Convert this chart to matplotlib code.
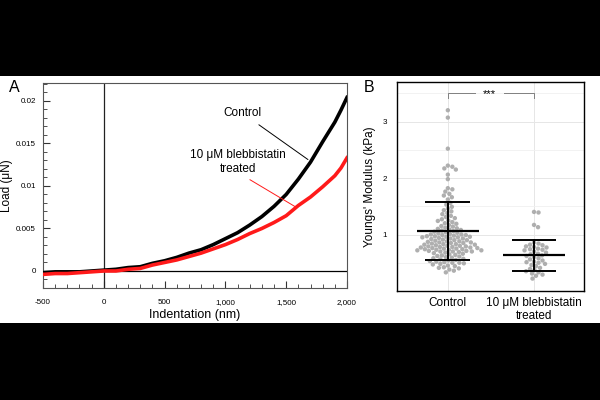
import numpy as np
import matplotlib
matplotlib.use("Agg")
import matplotlib.pyplot as plt
from matplotlib.patches import Rectangle
from matplotlib.ticker import MultipleLocator, FixedLocator, FuncFormatter

plt.rcParams['font.family'] = ['Liberation Sans', 'DejaVu Sans']

# ---------------- Data ----------------
indent_nm = [-500, -400, -300, -200, -100, 0, 100, 200, 300, 400, 500, 600, 700,
             800, 900, 1000, 1100, 1200, 1300, 1400, 1500, 1600, 1700, 1800,
             1900, 1950, 2000]
load_control = [-0.0002, -0.0001, -0.0001, -0.0001, 0.0000, 0.0001, 0.0002, 0.0004,
                 0.0005, 0.0009, 0.0012, 0.0016, 0.0021, 0.0025, 0.0031, 0.0038,
                 0.0045, 0.0054, 0.0064, 0.0076, 0.0090, 0.0108, 0.0128, 0.0152,
                 0.0175, 0.0189, 0.0204]
load_treated = [-0.0004, -0.0003, -0.0003, -0.0002, -0.0001, 0.0000, 0.0000, 0.0002,
                 0.0003, 0.0007, 0.0010, 0.0013, 0.0017, 0.0021, 0.0026, 0.0031,
                 0.0037, 0.0044, 0.0050, 0.0057, 0.0065, 0.0077, 0.0087, 0.0099,
                 0.0112, 0.0121, 0.0133]

x_ticks_A = [-500, 0, 500, 1000, 1500, 2000]
y_ticks_A = [0, 0.005, 0.01, 0.015, 0.02]
y_ticklabels_A = ["0", "0.005", "0.01", "0.015", "0.02"]

groups = ["Control", "10 \u03bcM blebbistatin\ntreated"]
modulus_control = [3.20, 3.07, 2.52,
    2.22, 2.20, 2.17, 2.15, 2.06, 1.98,
    1.82, 1.80, 1.76, 1.72, 1.69, 1.66, 1.62,
    1.56, 1.53, 1.49, 1.46, 1.43, 1.41, 1.38, 1.36,
    1.33, 1.31, 1.29, 1.27, 1.25, 1.24, 1.22, 1.20, 1.19, 1.17, 1.15, 1.14, 1.12, 1.11, 1.10,
    1.09, 1.08, 1.07, 1.06, 1.05, 1.04, 1.03, 1.02, 1.01, 1.00, 1.00, 0.99, 0.99, 0.98,
    0.97, 0.97, 0.96, 0.96, 0.95, 0.95,
    0.94, 0.93, 0.93, 0.92, 0.91, 0.90, 0.90, 0.89, 0.88, 0.88, 0.87, 0.86, 0.86, 0.85,
    0.85, 0.84, 0.83, 0.83, 0.82, 0.82, 0.81, 0.80, 0.80, 0.79, 0.79, 0.78, 0.78, 0.77,
    0.77, 0.76, 0.76, 0.75, 0.75, 0.74, 0.74, 0.73, 0.73, 0.72, 0.72, 0.71, 0.71, 0.70,
    0.70, 0.70, 0.69,
    0.68, 0.67, 0.66, 0.65, 0.64, 0.63, 0.62, 0.61, 0.60, 0.59, 0.58, 0.57, 0.56, 0.55,
    0.54, 0.53, 0.52, 0.51, 0.50, 0.50, 0.49, 0.48,
    0.47, 0.45, 0.44, 0.42, 0.41, 0.40, 0.38, 0.36, 0.33]
modulus_treated = [1.40, 1.39, 1.17, 1.13,
    0.86, 0.84, 0.82, 0.81, 0.79, 0.78, 0.77, 0.75, 0.74, 0.73, 0.72, 0.70, 0.68, 0.66,
    0.65, 0.63, 0.62, 0.60, 0.58, 0.56, 0.54, 0.52, 0.51, 0.50, 0.48, 0.46, 0.44, 0.41,
    0.39, 0.37, 0.35, 0.33, 0.31, 0.29, 0.27, 0.22]
group_means = [1.06, 0.63]
group_sds = [0.51, 0.28]
signif_label = "***"

# ---------------- Figure ----------------
W, H = 600, 400
fig = plt.figure(figsize=(6, 4), dpi=100, facecolor='black')
fig.patches.append(Rectangle((0, 1 - 323 / H), 1, (323 - 76) / H, transform=fig.transFigure,
                             facecolor='white', edgecolor='none', zorder=-10))

def px_axes(x0, y0, x1, y1):
    return fig.add_axes([x0 / W, 1 - y1 / H, (x1 - x0) / W, (y1 - y0) / H])

# ---------------- Panel A ----------------
axA = px_axes(43, 83, 347, 288)
axA.set_xlim(-500, 2000)
axA.set_ylim(-0.0020, 0.0221)
axA.plot(indent_nm, load_control, color='black', lw=2.6, solid_joinstyle='round', zorder=3)
axA.plot(indent_nm, load_treated, color='#ff1a1a', lw=2.6, solid_joinstyle='round', zorder=4)
axA.axvline(0, color='#222222', lw=0.9, zorder=2)
axA.axhline(0, color='black', lw=0.9, zorder=2)
for s in axA.spines.values():
    s.set_color('#555555')
    s.set_linewidth(0.8)
axA.xaxis.set_major_locator(FixedLocator(x_ticks_A))
axA.xaxis.set_minor_locator(MultipleLocator(100))
axA.xaxis.set_major_formatter(FuncFormatter(lambda v, p: f"{int(v):,}"))
axA.yaxis.set_major_locator(FixedLocator(y_ticks_A))
axA.set_yticklabels(y_ticklabels_A)
axA.yaxis.set_minor_locator(MultipleLocator(0.001))
axA.tick_params(axis='both', which='major', direction='in', length=5, width=0.8,
                labelsize=5.8, color='#333333')
axA.tick_params(axis='both', which='minor', direction='in', length=3, width=0.6,
                color='#333333')
axA.tick_params(axis='x', pad=8)
axA.tick_params(axis='y', pad=5)
axA.set_xlabel("Indentation (nm)", fontsize=9, labelpad=2)
axA.set_ylabel("Load (\u03bcN)", fontsize=8.5, labelpad=2)

axA.annotate("Control", xy=(1679, 0.0131), xytext=(1136, 0.0186),
             ha='center', va='center', fontsize=8.5,
             arrowprops=dict(arrowstyle='-', color='black', lw=0.7,
                             shrinkA=4, shrinkB=0))
axA.annotate("10 \u03bcM blebbistatin\ntreated", xy=(1581, 0.0075), xytext=(1104, 0.0128),
             ha='center', va='center', fontsize=8.5, linespacing=1.3,
             arrowprops=dict(arrowstyle='-', color='#ff1a1a', lw=0.7,
                             relpos=(0.55, 0.0), shrinkA=2, shrinkB=0))
fig.text(9 / W, 1 - 88 / H, "A", fontsize=11.5, ha='left', va='center')

# ---------------- Panel B ----------------
axB = px_axes(397, 82, 584, 291)
axB.set_xlim(0.41, 2.58)
axB.set_ylim(0, 3.70)
axB.yaxis.set_major_locator(FixedLocator([1, 2, 3]))
axB.yaxis.set_minor_locator(FixedLocator([0.5, 1.5, 2.5, 3.5]))
axB.set_xticks([1, 2])
axB.set_xticklabels(groups, fontsize=8.5, linespacing=1.15)
axB.tick_params(axis='both', which='both', length=0)
axB.tick_params(axis='y', labelsize=5.8, pad=7)
axB.tick_params(axis='x', pad=4)
axB.grid(True, which='major', color='#e6e6e6', lw=0.7)
axB.grid(True, which='minor', axis='y', color='#f0f0f0', lw=0.6)
axB.set_axisbelow(True)
for s in axB.spines.values():
    s.set_color('black')
    s.set_linewidth(1.0)
axB.set_ylabel("Youngs' Modulus (kPa)", fontsize=8.5, labelpad=5)

# beeswarm layout (pixel space)
bw_px = axB.get_position().width * W
bh_px = axB.get_position().height * H
xpu = bw_px / (2.58 - 0.41)
ypu = bh_px / 3.70
diam = 4.2

def swarm(values):
    placed = []
    offs = []
    for v in values:
        y = v * ypu
        best = None
        cands = [0.0]
        k = 1
        while len(cands) < 200:
            cands += [k * 0.5, -k * 0.5]
            k += 1
        for c in cands:
            ok = True
            for (px, py) in placed:
                if (c - px) ** 2 + (y - py) ** 2 < diam ** 2:
                    ok = False
                    break
            if ok:
                best = c
                break
        placed.append((best, y))
        offs.append(best / xpu)
    return offs

for i, vals in enumerate([modulus_control, modulus_treated]):
    xc = i + 1
    offs = swarm(vals)
    axB.scatter(np.array(offs) + xc, vals, s=10, color='#a6a6a6', edgecolors='none',
                alpha=0.9, zorder=3)
    m, sd = group_means[i], group_sds[i]
    axB.plot([xc - 0.36, xc + 0.36], [m, m], color='black', lw=1.6, zorder=4,
             solid_capstyle='butt')
    axB.plot([xc, xc], [m - sd, m + sd], color='black', lw=1.4, zorder=4)
    for yy in (m - sd, m + sd):
        axB.plot([xc - 0.26, xc + 0.26], [yy, yy], color='black', lw=1.4, zorder=4,
                 solid_capstyle='butt')

yb = 3.51
axB.plot([1, 1, 1.31], [3.42, yb, yb], color='#808080', lw=0.7, zorder=4)
axB.plot([1.65, 2, 2], [yb, yb, 3.42], color='#808080', lw=0.7, zorder=4)
axB.text(1.48, yb - 0.03, signif_label, ha='center', va='center', fontsize=8, zorder=5)
fig.text(364 / W, 1 - 87 / H, "B", fontsize=11.5, ha='left', va='center')

fig.savefig("out.png", dpi=100, facecolor=fig.get_facecolor())
